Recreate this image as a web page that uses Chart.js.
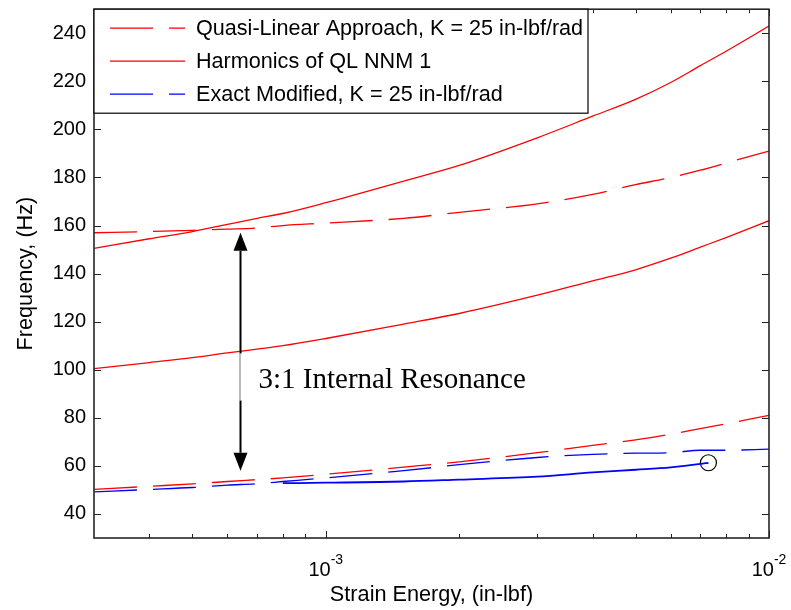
<!DOCTYPE html>
<html>
<head>
<meta charset="utf-8">
<script src="https://cdn.jsdelivr.net/npm/chart.js@4.4.0/dist/chart.umd.min.js"></script>
<style>
    html, body { margin: 0; padding: 0; background: #fff; }
    canvas { display: block; }
</style>
</head>
<body>
<canvas id="freqChart" width="791" height="610"></canvas>
<script>
// Strain energy sample points (in-lbf)
const strainEnergy = [3e-4, 4e-4, 5e-4, 6e-4, 7e-4, 8e-4, 1e-3, 1.5e-3, 2e-3, 3e-3, 4e-3, 5e-3, 6e-3, 7e-3, 8e-3, 1e-2];

// Quasi-linear approach, two modes (Hz)
const qlMode1 = [50.2, 51.5, 52.5, 53.5, 54.3, 55, 56.5, 59.5, 61.7, 65.5, 68.5, 70.8, 73.2, 75.5, 77.5, 81];
const qlMode2 = [157, 157.5, 158, 158.5, 159, 160, 161, 163, 165.5, 169, 173, 177, 180, 183, 186, 191];

// Harmonics of QL NNM 1 (Hz)
const harmonic2 = [100.5, 103, 105, 107, 108.6, 110, 113, 119, 123.4, 131, 137, 141.6, 146.4, 151, 155, 162];
const harmonic3 = [150.5, 154.5, 157.5, 160.5, 163, 165, 169.5, 178.5, 185, 196.5, 205.5, 212.5, 219.5, 226.5, 232.5, 243];

// Exact modified solution (Hz)
const exactUpper = [49.2, 50.2, 51, 52, 52.6, 53.5, 55, 58, 60.5, 63.5, 64.8, 65.3, 65.5, 66.5, 66.5, 67];
const exactLowerEnergy = [8e-4, 1e-3, 1.5e-3, 2e-3, 3e-3, 4e-3, 5e-3, 6e-3, 7e-3, 7.3e-3];
const exactLower = [52.8, 53, 53.5, 54.3, 55.5, 57.3, 58.4, 59.4, 60.8, 61.3];

// Circled end point
const markerEnergy = [7.3e-3];
const markerFreq = [61.3];

// Internal resonance arrow
const arrowEnergy = 6.4e-4;
const arrowFrom = 157;
const arrowTo = 58;
const noteFreq = 92.2;
const noteText = '3:1 Internal Resonance';

// Axis ticks
const yTicks = [40, 60, 80, 100, 120, 140, 160, 180, 200, 220, 240];
const xMajor = [1e-3, 1e-2];
const xMajorLabels = ['-3', '-2'];
const xMinor = [4e-4, 5e-4, 6e-4, 7e-4, 8e-4, 9e-4, 2e-3, 3e-3, 4e-3, 5e-3, 6e-3, 7e-3, 8e-3, 9e-3];

const RED = '#ff0000';
const BLUE = '#0000ff';
const SANS = '"Liberation Sans", Arial, sans-serif';
const DASH = [43, 16];

function pts(xs, ys) {
    return xs.map((x, i) => ({ x: x, y: ys[i] }));
}

function lineSet(label, data, color, dash, inLegend, width) {
    return {
        label: label,
        data: data,
        borderColor: color,
        backgroundColor: color,
        borderWidth: width || 1.3,
        borderDash: dash,
        pointRadius: 0,
        fill: false,
        cubicInterpolationMode: 'monotone',
        inLegend: inLegend
    };
}

// Frame, inward ticks, x labels, legend and arrow
const decorations = {
    id: 'decorations',
    afterDraw(chart) {
        const ctx = chart.ctx;
        const area = chart.chartArea;
        const xs = chart.scales.x;
        const ys = chart.scales.y;

        ctx.save();

        // ticks
        ctx.strokeStyle = '#222';
        ctx.lineWidth = 1;
        ctx.beginPath();
        yTicks.forEach(v => {
            const py = Math.round(ys.getPixelForValue(v)) + 0.5;
            ctx.moveTo(area.left, py); ctx.lineTo(area.left + 7, py);
            ctx.moveTo(area.right, py); ctx.lineTo(area.right - 7, py);
        });
        xMajor.forEach(v => {
            const px = Math.round(xs.getPixelForValue(v)) + 0.5;
            ctx.moveTo(px, area.bottom); ctx.lineTo(px, area.bottom - 7);
            ctx.moveTo(px, area.top); ctx.lineTo(px, area.top + 7);
        });
        xMinor.forEach(v => {
            const px = Math.round(xs.getPixelForValue(v)) + 0.5;
            ctx.moveTo(px, area.bottom); ctx.lineTo(px, area.bottom - 4);
            ctx.moveTo(px, area.top); ctx.lineTo(px, area.top + 4);
        });
        ctx.stroke();

        // frame
        ctx.strokeStyle = '#262626';
        ctx.lineWidth = 1.6;
        ctx.strokeRect(area.left, area.top, area.right - area.left, area.bottom - area.top);

        // x tick labels 10^n
        ctx.fillStyle = '#000';
        ctx.textBaseline = 'alphabetic';
        xMajor.forEach((v, i) => {
            const px = xs.getPixelForValue(v);
            ctx.font = '20px ' + SANS;
            const w1 = ctx.measureText('10').width;
            ctx.font = '14px ' + SANS;
            const w2 = ctx.measureText(xMajorLabels[i]).width;
            const x0 = px - (w1 + w2) / 2;
            ctx.font = '20px ' + SANS;
            ctx.textAlign = 'left';
            ctx.fillText('10', x0, 576);
            ctx.font = '14px ' + SANS;
            ctx.fillText(xMajorLabels[i], x0 + w1, 564);
        });

        // legend
        const lx = area.left, ly = area.top, lw = 494, lh = 104;
        ctx.fillStyle = '#fff';
        ctx.fillRect(lx, ly, lw, lh);
        ctx.strokeStyle = '#000';
        ctx.lineWidth = 1.2;
        ctx.strokeRect(lx, ly, lw, lh);
        const entries = chart.data.datasets.filter(d => d.inLegend);
        ctx.font = '21.6px ' + SANS;
        ctx.textBaseline = 'middle';
        entries.forEach((d, i) => {
            const ry = ly + 19 + i * 33;
            ctx.strokeStyle = d.borderColor;
            ctx.lineWidth = 1.3;
            ctx.setLineDash(d.borderDash || []);
            ctx.beginPath();
            ctx.moveTo(lx + 16, ry);
            ctx.lineTo(lx + 91, ry);
            ctx.stroke();
            ctx.setLineDash([]);
            ctx.fillStyle = '#000';
            ctx.fillText(d.label, lx + 102, ry + 1);
        });

        // arrow
        const ax = Math.round(xs.getPixelForValue(arrowEnergy)) + 0.5;
        const yTop = ys.getPixelForValue(arrowFrom);
        const yBot = ys.getPixelForValue(arrowTo);
        const yNote = ys.getPixelForValue(noteFreq);
        const head = 18, half = 7;
        ctx.strokeStyle = '#000';
        ctx.lineWidth = 2;
        ctx.beginPath();
        ctx.moveTo(ax, yTop + head); ctx.lineTo(ax, yNote - 35);
        ctx.moveTo(ax, yNote + 12); ctx.lineTo(ax, yBot - head);
        ctx.stroke();
        ctx.strokeStyle = '#777';
        ctx.lineWidth = 1;
        ctx.beginPath();
        ctx.moveTo(ax - 0.5, yNote - 35); ctx.lineTo(ax - 0.5, yNote + 12);
        ctx.stroke();
        ctx.fillStyle = '#000';
        ctx.beginPath();
        ctx.moveTo(ax, yTop); ctx.lineTo(ax - half, yTop + head); ctx.lineTo(ax + half, yTop + head);
        ctx.closePath(); ctx.fill();
        ctx.beginPath();
        ctx.moveTo(ax, yBot); ctx.lineTo(ax - half, yBot - head); ctx.lineTo(ax + half, yBot - head);
        ctx.closePath(); ctx.fill();

        ctx.font = '29px "Liberation Serif", "Times New Roman", serif';
        ctx.textAlign = 'left';
        ctx.textBaseline = 'alphabetic';
        ctx.fillText(noteText, ax + 18, yNote);

        ctx.restore();
    }
};

const chart = new Chart(document.getElementById('freqChart').getContext('2d'), {
    type: 'line',
    data: {
        datasets: [
            lineSet('Quasi-Linear Approach, K = 25 in-lbf/rad', pts(strainEnergy, qlMode1), RED, DASH, true),
            lineSet('Harmonics of QL NNM 1', pts(strainEnergy, harmonic2), RED, [], true),
            lineSet('Exact Modified, K = 25 in-lbf/rad', pts(strainEnergy, exactUpper), BLUE, DASH, true),
            lineSet('QL mode 2', pts(strainEnergy, qlMode2), RED, DASH, false),
            lineSet('Harmonic x3', pts(strainEnergy, harmonic3), RED, [], false),
            lineSet('Exact lower branch', pts(exactLowerEnergy, exactLower), BLUE, [], false, 1.8),
            {
                label: 'End point',
                data: pts(markerEnergy, markerFreq),
                showLine: false,
                pointStyle: 'circle',
                pointRadius: 8,
                borderColor: '#000',
                borderWidth: 1.2,
                backgroundColor: 'rgba(0,0,0,0)',
                inLegend: false
            }
        ]
    },
    options: {
        responsive: false,
        animation: false,
        layout: { padding: { top: 9, right: 22, left: 0, bottom: 0 } },
        plugins: {
            legend: { display: false },
            tooltip: { enabled: false }
        },
        scales: {
            x: {
                type: 'logarithmic',
                min: 3e-4,
                max: 1e-2,
                ticks: { display: false },
                grid: { display: false, drawTicks: false },
                border: { display: false },
                title: {
                    display: true,
                    text: 'Strain Energy, (in-lbf)',
                    color: '#000',
                    font: { family: SANS, size: 21.7 },
                    padding: { top: 2, bottom: 2 }
                },
                afterFit: s => {
                    s.height = 72;
                    s.paddingLeft = 0; s.paddingRight = 0;
                }
            },
            y: {
                min: 30,
                max: 250,
                afterBuildTicks: s => { s.ticks = yTicks.map(v => ({ value: v })); },
                ticks: {
                    color: '#000',
                    font: { family: SANS, size: 20 },
                    padding: 8
                },
                grid: { display: false, drawTicks: false },
                border: { display: false },
                title: {
                    display: true,
                    text: 'Frequency, (Hz)',
                    color: '#000',
                    font: { family: SANS, size: 21.7 },
                    padding: { top: 13, bottom: 13 }
                },
                afterFit: s => {
                    s.width = 94;
                    s.paddingTop = 0; s.paddingBottom = 0;
                }
            }
        }
    },
    plugins: [decorations]
});
</script>
</body>
</html>
